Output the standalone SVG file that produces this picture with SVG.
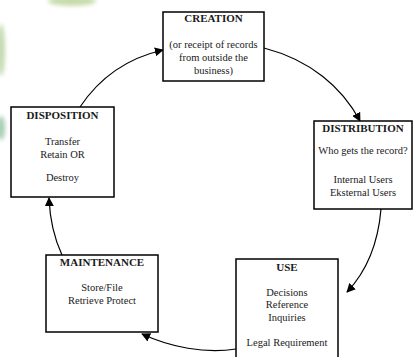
<svg xmlns="http://www.w3.org/2000/svg" width="414" height="357" viewBox="0 0 414 357">
<defs>
<marker id="ah" viewBox="0 0 10 10" refX="9" refY="5" markerWidth="9" markerHeight="9" markerUnits="userSpaceOnUse" orient="auto">
<path d="M0,0 L10,5 L0,10 Z" fill="#000"/>
</marker>
<filter id="blur" x="-50%" y="-50%" width="200%" height="200%"><feGaussianBlur stdDeviation="2"/></filter>
<style>
.box{fill:#fff;stroke:#000;stroke-width:1.5}
.t{font-family:"Liberation Serif","Times New Roman","DejaVu Serif",serif;font-size:10.5px;fill:#1a1a1a;text-anchor:middle}
.b{font-weight:bold;font-size:11px}
.c{fill:none;stroke:#000;stroke-width:1.2;marker-end:url(#ah)}
</style>
</defs>
<rect width="414" height="357" fill="#fff"/>
<g id="watermark" filter="url(#blur)">
<ellipse cx="72" cy="1" rx="24" ry="5" fill="#c6dcaa"/>
<ellipse cx="1" cy="50" rx="4" ry="26" fill="#c4d9b0"/>
<ellipse cx="1" cy="128" rx="4" ry="12" fill="#a6ccb4"/>
</g>
<g id="connectors">
<path class="c" d="M80,107 C100,77 128,58 163,50"/>
<path class="c" d="M264,48 C310,60 342,87 360,121"/>
<path class="c" d="M381,209 C378,245 366,272 347,292"/>
<path class="c" d="M236,349 C205,354 170,347 142,334"/>
<path class="c" d="M62,255 C55,240 50,222 49,198"/>
</g>
<g id="creation">
<rect class="box" x="163" y="12" width="101" height="69"/>
<text class="t b" x="213.5" y="22">CREATION</text>
<text class="t" x="213.5" y="48">(or receipt of records</text>
<text class="t" x="213.5" y="61">from outside the</text>
<text class="t" x="213.5" y="74">business)</text>
</g>
<g id="distribution">
<rect class="box" x="314" y="121" width="98" height="88"/>
<text class="t b" x="363" y="132">DISTRIBUTION</text>
<text class="t" x="363" y="154">Who gets the record?</text>
<text class="t" x="363" y="183">Internal Users</text>
<text class="t" x="363" y="196">Eksternal Users</text>
</g>
<g id="use">
<rect class="box" x="236" y="259" width="102" height="100"/>
<text class="t b" x="287" y="271">USE</text>
<text class="t" x="287" y="296">Decisions</text>
<text class="t" x="287" y="308">Reference</text>
<text class="t" x="287" y="321">Inquiries</text>
<text class="t" x="287" y="346">Legal Requirement</text>
</g>
<g id="maintenance">
<rect class="box" x="46" y="255" width="112" height="77"/>
<text class="t b" x="102" y="266">MAINTENANCE</text>
<text class="t" x="102" y="291">Store/File</text>
<text class="t" x="102" y="304">Retrieve Protect</text>
</g>
<g id="disposition">
<rect class="box" x="11" y="107" width="103" height="90"/>
<text class="t b" x="62.5" y="119">DISPOSITION</text>
<text class="t" x="62.5" y="145">Transfer</text>
<text class="t" x="62.5" y="158">Retain OR</text>
<text class="t" x="62.5" y="181">Destroy</text>
</g>
</svg>
